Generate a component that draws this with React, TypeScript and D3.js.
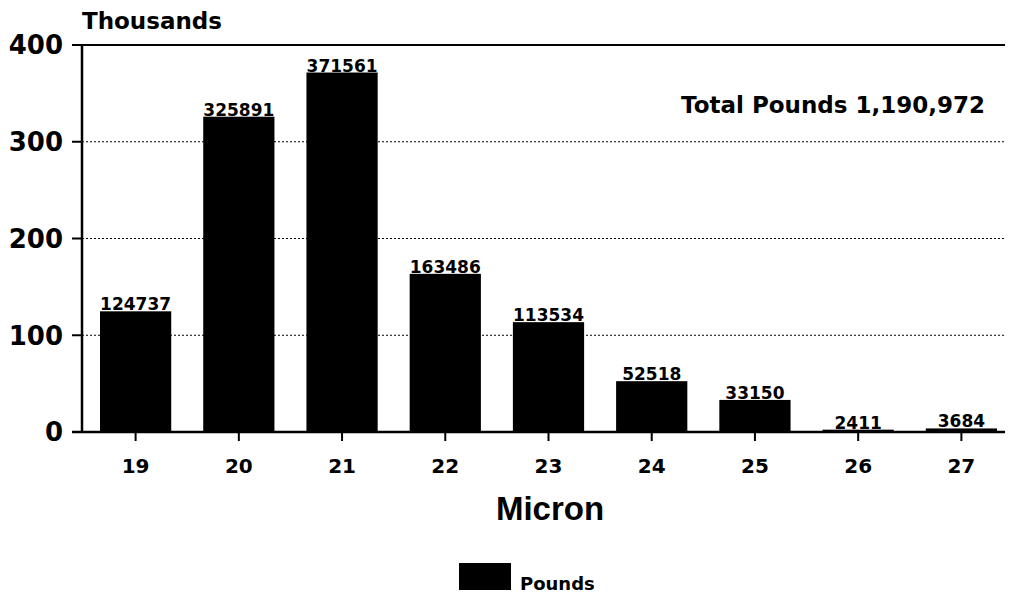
import React from "react";
import * as d3 from "d3";

const categories = ["19", "20", "21", "22", "23", "24", "25", "26", "27"];
const pounds = [124737, 325891, 371561, 163486, 113534, 52518, 33150, 2411, 3684];
const yTicks = [0, 100, 200, 300, 400];
const totalLabel = "Total Pounds 1,190,972";

const W = 1009, H = 596;
const left = 82, right = 1005, top = 45, bottom = 432;

export default function App() {
  const x = d3.scaleBand<string>().domain(categories).range([84, 1013]).paddingInner(0.31).paddingOuter(0.155);
  const y = d3.scaleLinear().domain([0, 400]).range([bottom, top]);
  const font = "'DejaVu Sans', Arial, sans-serif";
  const lib = "'Liberation Sans', Arial, sans-serif";
  return (
    <svg width={W} height={H} style={{ position: "absolute", left: 0, top: 0, background: "#fff" }} fontFamily={font}>
      <rect width={W} height={H} fill="#fff" />
      {yTicks.filter(t => t > 0 && t < 400).map(t => (
        <line key={t} x1={left} x2={right} y1={y(t)} y2={y(t)} stroke="#000" strokeWidth={1.2} strokeDasharray="2,2" />
      ))}
      <line x1={72} x2={right} y1={y(400)} y2={y(400)} stroke="#000" strokeWidth={2} />
      {categories.map((c, i) => (
        <rect key={c} x={x(c)!} width={x.bandwidth()} y={y(pounds[i] / 1000)} height={bottom - y(pounds[i] / 1000)} fill="#000" />
      ))}
      {categories.map((c, i) => (
        <text key={c} x={x(c)! + x.bandwidth() / 2} y={y(pounds[i] / 1000) - 1} textAnchor="middle" fontSize={17} fontWeight="bold">
          {pounds[i]}
        </text>
      ))}
      <line x1={left} x2={left} y1={top} y2={bottom} stroke="#000" strokeWidth={2.5} />
      <line x1={72} x2={right} y1={bottom} y2={bottom} stroke="#000" strokeWidth={2.5} />
      {yTicks.map(t => (
        <g key={t}>
          <line x1={72} x2={left} y1={y(t)} y2={y(t)} stroke="#000" strokeWidth={2} />
          <text x={63} y={y(t)} dy="0.36em" textAnchor="end" fontSize={26} fontWeight="bold">{t}</text>
        </g>
      ))}
      {categories.map(c => (
        <g key={c}>
          <line x1={x(c)! + x.bandwidth() / 2} x2={x(c)! + x.bandwidth() / 2} y1={bottom} y2={bottom + 9} stroke="#000" strokeWidth={2} />
          <text x={x(c)! + x.bandwidth() / 2} y={473} textAnchor="middle" fontSize={20} fontWeight="bold">{c}</text>
        </g>
      ))}
      <text x={82} y={29} fontSize={23} fontWeight="bold">Thousands</text>
      <text x={985} y={113} textAnchor="end" fontSize={23} fontWeight="bold">{totalLabel}</text>
      <text x={550} y={520} textAnchor="middle" fontSize={33} fontWeight="bold" fontFamily={lib}>Micron</text>
      <rect x={459} y={563} width={52} height={27} fill="#000" />
      <text x={520} y={590} fontSize={18} fontWeight="bold">Pounds</text>
    </svg>
  );
}
